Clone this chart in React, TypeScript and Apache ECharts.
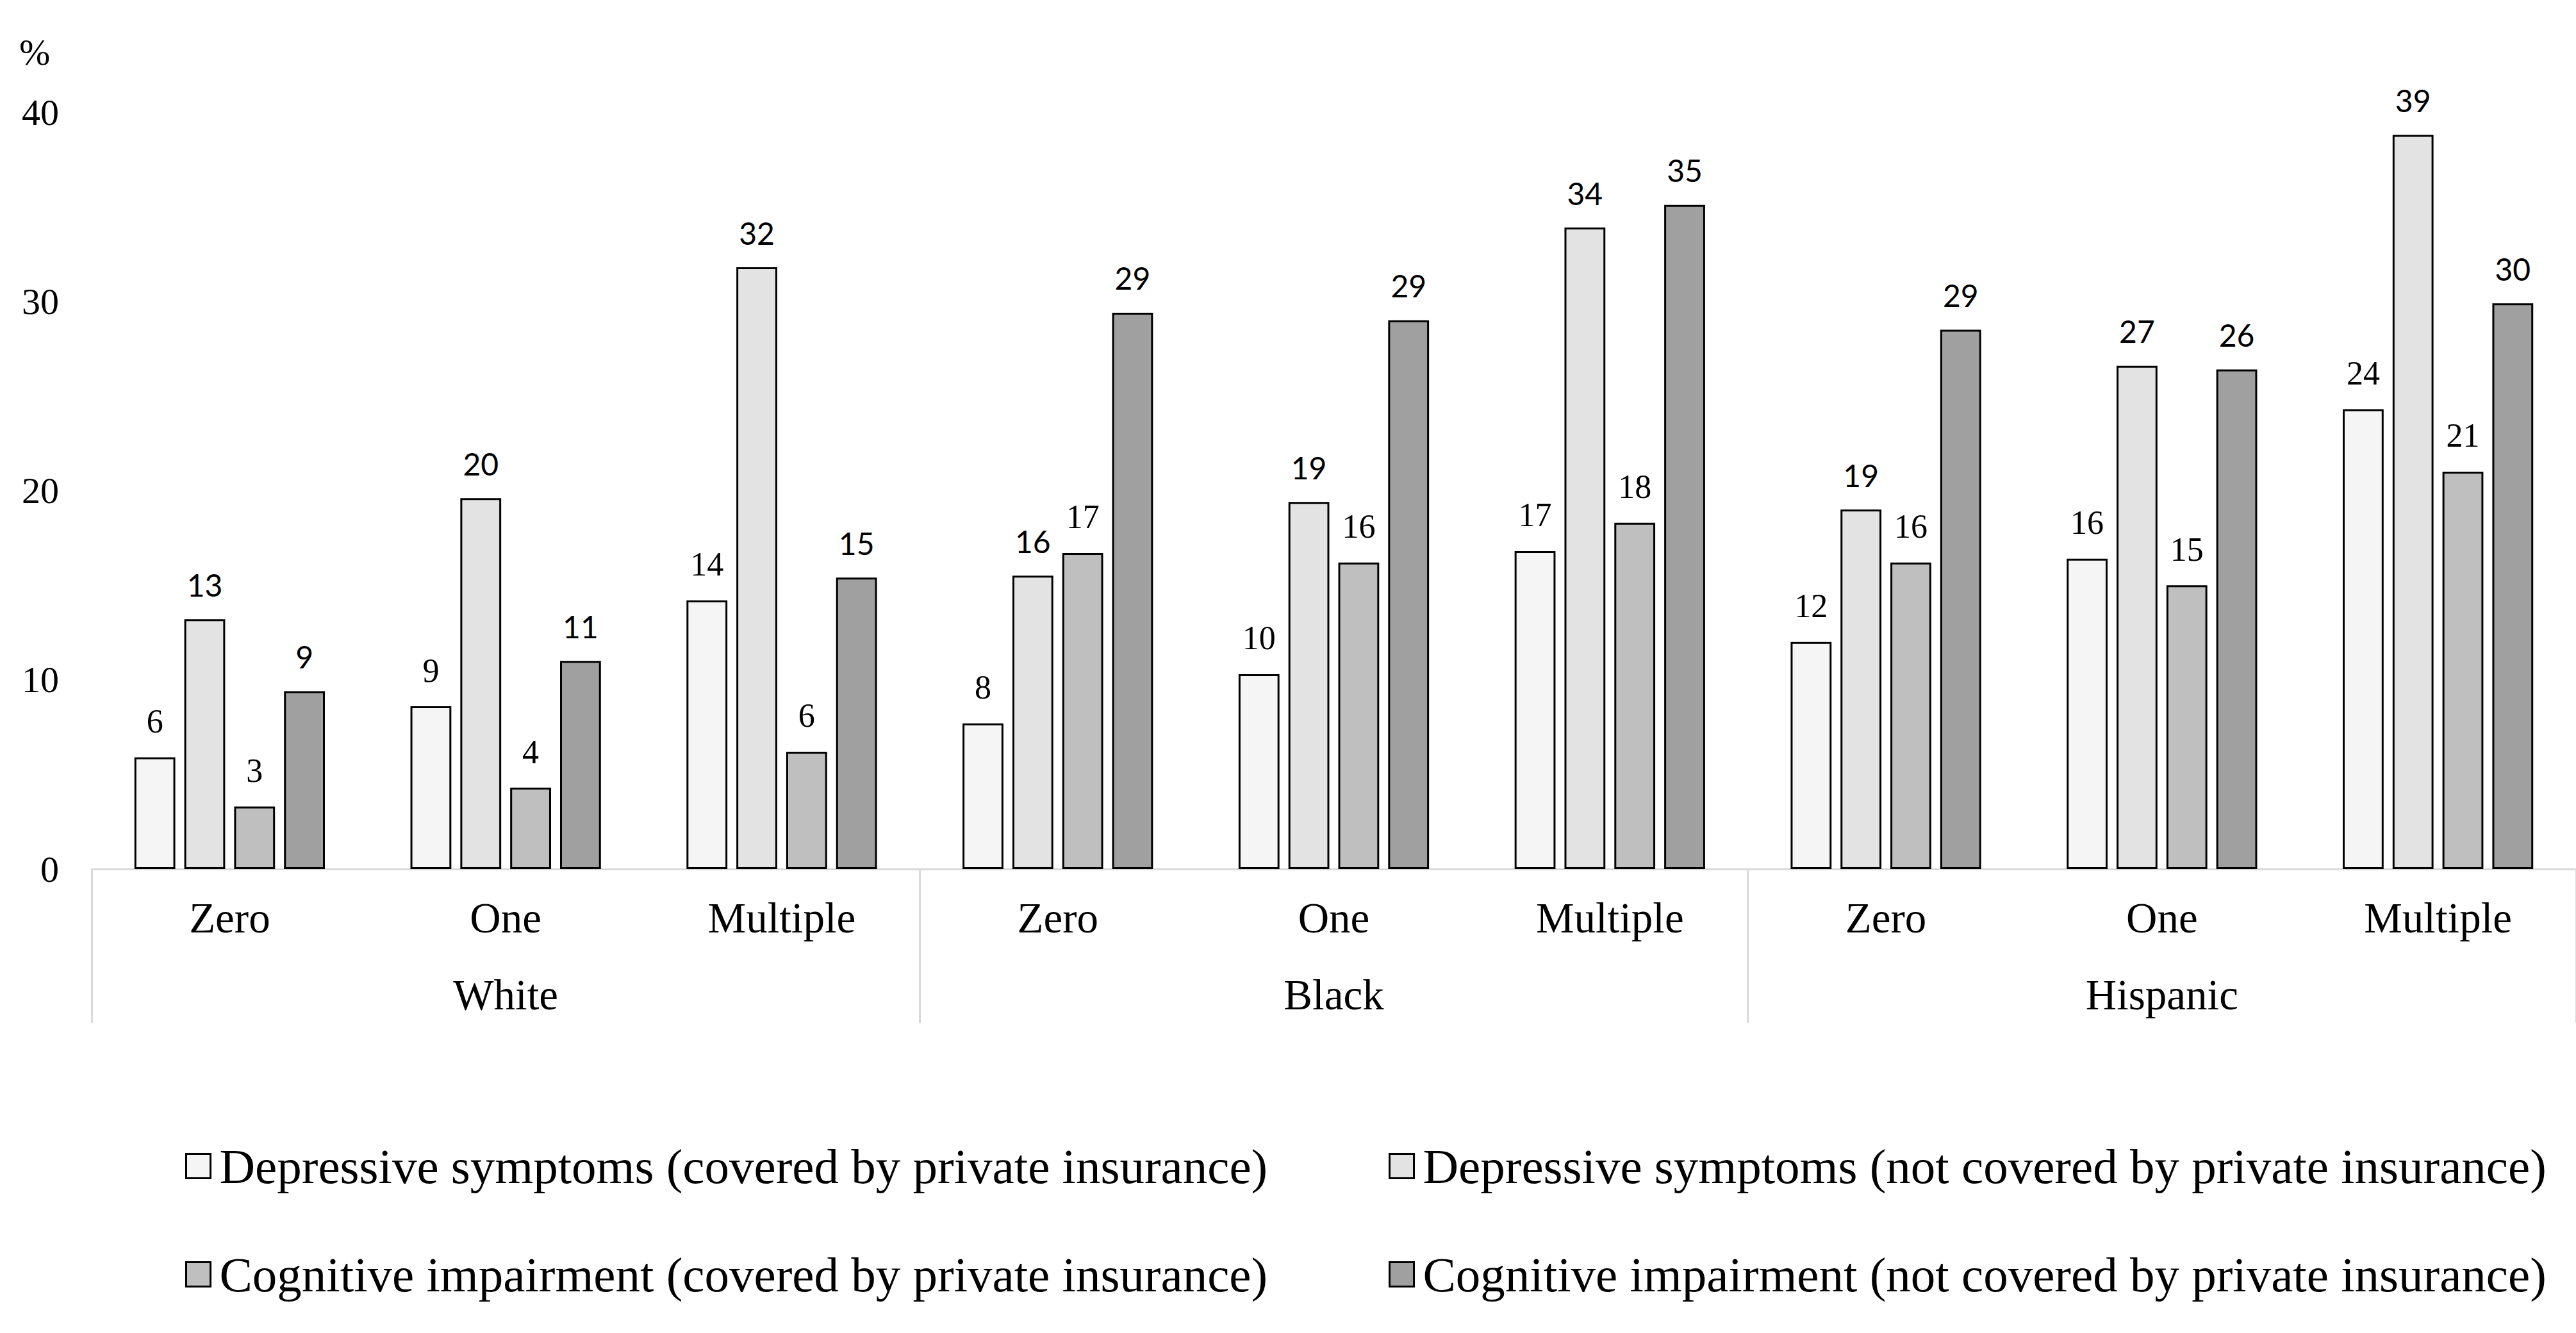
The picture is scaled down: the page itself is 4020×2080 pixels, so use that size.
import React, { useEffect, useRef } from "react";
import * as echarts from "echarts";

const categories = ["Zero", "One", "Multiple", "Zero", "One", "Multiple", "Zero", "One", "Multiple"];
const groups = ["White", "Black", "Hispanic"];
const yTicks = [0, 10, 20, 30, 40];

const seriesNames = [
  "Depressive symptoms (covered by private insurance)",
  "Depressive symptoms (not covered by private insurance)",
  "Cognitive impairment (covered by private insurance)",
  "Cognitive impairment (not covered by private insurance)",
];
const depCovered = [5.9, 8.6, 14.2, 7.7, 10.3, 16.8, 12.0, 16.4, 24.3];
const depNotCovered = [13.2, 19.6, 31.8, 15.5, 19.4, 33.9, 19.0, 26.6, 38.8];
const cogCovered = [3.3, 4.3, 6.2, 16.7, 16.2, 18.3, 16.2, 15.0, 21.0];
const cogNotCovered = [9.4, 11.0, 15.4, 29.4, 29.0, 35.1, 28.5, 26.4, 29.9];

const fills = ["#F5F5F5", "#E3E3E3", "#BFBFBF", "#A0A0A0"];
const SERIF = "'Liberation Serif', 'Times New Roman', serif";
const SANS = "Lato, 'Open Sans', sans-serif";

export default function App() {
  const ref = useRef<HTMLDivElement>(null);
  useEffect(() => {
    if (!ref.current) return;
    const chart = echarts.init(ref.current, null, { renderer: "svg" });
    const values = [depCovered, depNotCovered, cogCovered, cogNotCovered];
    const labelFonts = [SERIF, SANS, SERIF, SANS];
    const labelSizes = [52, 48, 52, 48];
    const series = values.map((d, i) => ({
      name: seriesNames[i],
      type: "bar",
      xAxisIndex: 0,
      yAxisIndex: 0,
      data: d,
      barCategoryGap: "31%",
      barGap: "22%",
      itemStyle: { color: fills[i], borderColor: "#000", borderWidth: 3 },
      label: {
        show: true,
        position: "top",
        distance: 30,
        color: "#000",
        fontFamily: labelFonts[i],
        fontSize: labelSizes[i],
        formatter: (p: any) => String(Math.round(p.value)),
      },
    }));
    const legendCommon = {
      orient: "vertical",
      top: 1776,
      itemWidth: 38,
      itemHeight: 38,
      itemGap: 92,
      icon: "rect",
      selectedMode: false,
      itemStyle: { borderColor: "#000", borderWidth: 3 },
      textStyle: { fontFamily: SERIF, fontSize: 77, color: "#000", padding: [0, 0, 0, 9] },
    };
    chart.setOption({
      animation: false,
      backgroundColor: "#fff",
      grid: { left: 143, right: -19, top: 175, bottom: 724, containLabel: false },
      xAxis: [
        {
          type: "category",
          data: categories,
          position: "bottom",
          axisLine: { show: true, lineStyle: { color: "#D9D9D9", width: 3 } },
          axisTick: { show: false },
          axisLabel: { interval: 0, margin: 42, color: "#000", fontFamily: SERIF, fontSize: 67 },
          splitLine: { show: false },
        },
        {
          type: "category",
          data: groups,
          position: "bottom",
          offset: 0,
          axisLine: { show: false },
          axisTick: { show: true, length: 240, lineStyle: { color: "#D9D9D9", width: 3 } },
          axisLabel: { interval: 0, margin: 162, color: "#000", fontFamily: SERIF, fontSize: 67 },
          splitLine: { show: false },
        },
      ],
      yAxis: {
        type: "value",
        min: yTicks[0],
        max: yTicks[yTicks.length - 1],
        interval: 10,
        axisLine: { show: false },
        axisTick: { show: false },
        splitLine: { show: false },
        axisLabel: { margin: 51, color: "#000", fontFamily: SERIF, fontSize: 58 },
      },
      legend: [
        { ...legendCommon, left: 284, data: [seriesNames[0], seriesNames[2]] },
        { ...legendCommon, left: 2162, data: [seriesNames[1], seriesNames[3]] },
      ],
      graphic: [
        {
          type: "text",
          left: 30,
          top: 52,
          style: { text: "%", fontFamily: SERIF, fontSize: 58, fill: "#000" },
        },
      ],
      series,
    });
    return () => chart.dispose();
  }, []);
  return (
    <div
      ref={ref}
      style={{ position: "absolute", left: 0, top: 0, width: 4020, height: 2080 }}
    />
  );
}
